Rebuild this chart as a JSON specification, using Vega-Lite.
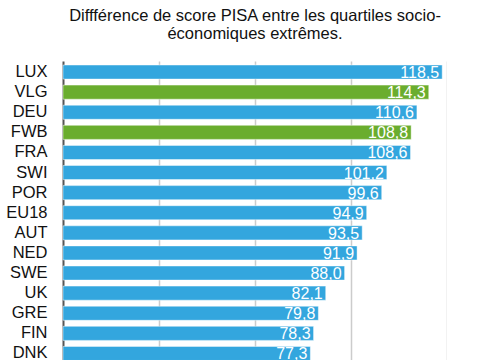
{
  "$schema": "https://vega.github.io/schema/vega-lite/v6.json",
  "autosize": "none",
  "padding": {"left": 63, "top": 61, "right": 0, "bottom": 0},
  "width": 384,
  "height": 303.5,
  "title": {
    "text": ["Diffférence de score PISA entre les quartiles socio-", "économiques extrêmes."],
    "font": "Liberation Sans",
    "fontSize": 16.5,
    "fontWeight": "normal",
    "color": "#111111",
    "lineHeight": 18,
    "anchor": "middle",
    "offset": 19
  },
  "config": {
    "locale": {"number": {"decimal": ",", "thousands": ".", "grouping": [3], "currency": ["", " €"]}},
    "view": {"stroke": null},
    "font": "Liberation Sans"
  },
  "data": {
    "values": [
      {"pays": "LUX", "score": 118.5, "groupe": "autre"},
      {"pays": "VLG", "score": 114.3, "groupe": "belge"},
      {"pays": "DEU", "score": 110.6, "groupe": "autre"},
      {"pays": "FWB", "score": 108.8, "groupe": "belge"},
      {"pays": "FRA", "score": 108.6, "groupe": "autre"},
      {"pays": "SWI", "score": 101.2, "groupe": "autre"},
      {"pays": "POR", "score": 99.6, "groupe": "autre"},
      {"pays": "EU18", "score": 94.9, "groupe": "autre"},
      {"pays": "AUT", "score": 93.5, "groupe": "autre"},
      {"pays": "NED", "score": 91.9, "groupe": "autre"},
      {"pays": "SWE", "score": 88.0, "groupe": "autre"},
      {"pays": "UK", "score": 82.1, "groupe": "autre"},
      {"pays": "GRE", "score": 79.8, "groupe": "autre"},
      {"pays": "FIN", "score": 78.3, "groupe": "autre"},
      {"pays": "DNK", "score": 77.3, "groupe": "autre"}
    ]
  },
  "encoding": {
    "y": {
      "field": "pays",
      "type": "nominal",
      "sort": null,
      "scale": {"paddingInner": 0.3, "paddingOuter": 0.2},
      "axis": {
        "title": null,
        "ticks": false,
        "labelFont": "Liberation Sans",
        "labelFontSize": 16.5,
        "labelColor": "#111111",
        "labelPadding": 16,
        "domainColor": "#555555",
        "domainWidth": 2
      }
    },
    "x": {
      "field": "score",
      "type": "quantitative",
      "scale": {"domain": [0, 120], "nice": false},
      "axis": {
        "values": [30, 60, 90, 120],
        "labels": false,
        "ticks": false,
        "domain": false,
        "title": null,
        "grid": true,
        "gridColor": "#cccccc",
        "gridWidth": 1.5
      }
    }
  },
  "layer": [
    {
      "mark": {"type": "bar", "stroke": "#ffffff", "strokeOpacity": 0.45, "strokeWidth": 1},
      "encoding": {
        "color": {
          "field": "groupe",
          "type": "nominal",
          "scale": {"domain": ["autre", "belge"], "range": ["#33a6de", "#6aad2e"]},
          "legend": null
        }
      }
    },
    {
      "mark": {"type": "text", "align": "right", "baseline": "middle", "dx": -3, "dy": 1, "color": "#ffffff", "fontSize": 16, "font": "Liberation Sans"},
      "encoding": {
        "text": {"field": "score", "type": "quantitative", "format": ".1f"}
      }
    }
  ]
}
